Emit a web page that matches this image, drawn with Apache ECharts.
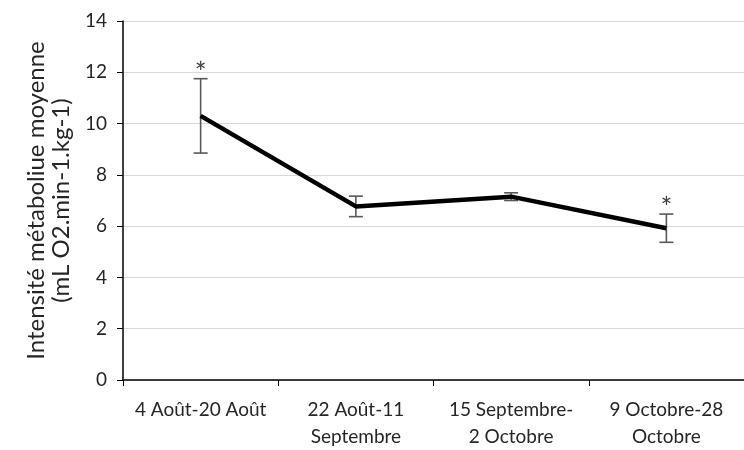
<!DOCTYPE html>
<html>
<head>
<meta charset="utf-8">
<script src="https://cdn.jsdelivr.net/npm/echarts@6/dist/echarts.min.js"></script>
<style>
  html, body { margin: 0; padding: 0; background: #fff; }
  #chart { width: 744px; height: 450px; }
</style>
</head>
<body>
<div id="chart"></div>
<script>
// periodes de mesure
const categories = ['4 Août-20 Août', '22 Août-11\nSeptembre', '15 Septembre-\n2 Octobre', '9 Octobre-28\nOctobre']
// moyennes et ecarts
const means = [10.3, 6.77, 7.15, 5.92]
const errors = [1.45, 0.4, 0.15, 0.55]
// significativite
const signif = ['*', '', '', '*']

const font = 'Lato, "Open Sans", sans-serif'
const textColor = '#262626'

const chart = echarts.init(document.getElementById('chart'))

chart.setOption({
  animation: false,
  grid: {
    left: 123,
    right: -3,
    top: 21,
    bottom: 68
  },
  xAxis: {
    type: 'category',
    data: categories,
    boundaryGap: true,
    axisLine: { lineStyle: { color: '#000', width: 1.5 } },
    axisTick: { show: true, alignWithLabel: false, length: 6, lineStyle: { color: '#000' } },
    axisLabel: {
      color: textColor,
      fontFamily: font,
      fontSize: 19,
      lineHeight: 27,
      margin: 16,
      interval: 0
    }
  },
  yAxis: {
    type: 'value',
    min: 0,
    max: 14,
    interval: 2,
    name: 'Intensité métaboliue moyenne\n(mL O2.min-1.kg-1)',
    nameLocation: 'middle',
    nameRotate: 90,
    nameGap: 47,
    nameTextStyle: {
      color: textColor,
      fontFamily: font,
      fontSize: 24,
      lineHeight: 25
    },
    axisLine: { show: true, lineStyle: { color: '#000', width: 1.5 } },
    axisTick: { show: true, length: 6, lineStyle: { color: '#000' } },
    axisLabel: {
      color: textColor,
      fontFamily: font,
      fontSize: 19,
      margin: 16
    },
    splitLine: { lineStyle: { color: '#d9d9d9', width: 1.2 } }
  },
  series: [
    {
      type: 'custom',
      z: 3,
      data: means.map((m, i) => [i, m - errors[i], m + errors[i], signif[i]]),
      renderItem(params, api) {
        const low = api.coord([api.value(0), api.value(1)])
        const high = api.coord([api.value(0), api.value(2)])
        const cap = 7
        const style = { stroke: '#595959', lineWidth: 1.6 }
        const children = [
          { type: 'line', shape: { x1: low[0], y1: low[1], x2: high[0], y2: high[1] }, style },
          { type: 'line', shape: { x1: low[0] - cap, y1: low[1], x2: low[0] + cap, y2: low[1] }, style },
          { type: 'line', shape: { x1: high[0] - cap, y1: high[1], x2: high[0] + cap, y2: high[1] }, style }
        ]
        const star = api.value(3)
        if (star) {
          children.push({
            type: 'text',
            style: {
              x: high[0],
              y: high[1] + 9,
              text: star,
              fill: '#404040',
              font: '28px ' + font,
              align: 'center',
              verticalAlign: 'bottom'
            }
          })
        }
        return { type: 'group', children }
      }
    },
    {
      type: 'line',
      z: 4,
      data: means,
      symbol: 'none',
      lineStyle: { color: '#000', width: 4.5 }
    }
  ]
})
</script>
</body>
</html>
